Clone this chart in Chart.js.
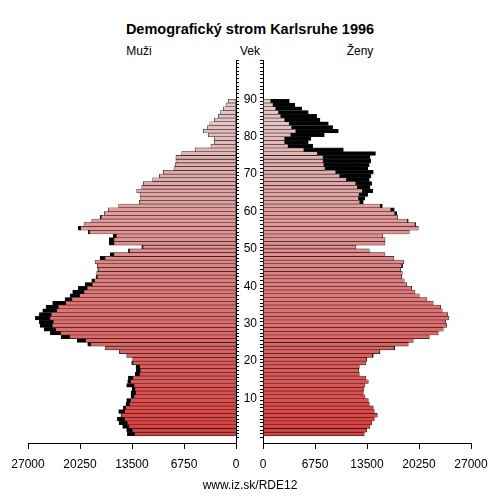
<!DOCTYPE html>
<html>
<head>
<meta charset="utf-8">
<script src="https://cdn.jsdelivr.net/npm/chart.js@4.4.1/dist/chart.umd.min.js"></script>
<style>
    body { margin: 0; background: #fff; font-family: "Liberation Sans", Arial, sans-serif; }
    #wrap { position: relative; width: 500px; height: 500px; overflow: hidden; }
    .txt { position: absolute; white-space: nowrap; line-height: 1; color: #000; transform: translateX(-50%); }
    #title { font-size: 14.5px; font-weight: bold; top: 22px; left: 250px; }
    .head { font-size: 12px; top: 45px; }
    #foot { font-size: 12px; top: 479px; left: 250px; }
    #menBox { position: absolute; left: 0; top: 0; }
    #womenBox { position: absolute; left: 236px; top: 0; }
</style>
</head>
<body>
<div id="wrap">
    <div id="title" class="txt">Demografický strom Karlsruhe 1996</div>
    <div class="txt head" style="left:139px">Muži</div>
    <div class="txt head" style="left:250px">Vek</div>
    <div class="txt head" style="left:360px">Ženy</div>
    <canvas id="menBox" width="250" height="500"></canvas>
    <canvas id="womenBox" width="264" height="500"></canvas>
    <div id="foot" class="txt">www.iz.sk/RDE12</div>
</div>

<script>
// ===== DATA =====

// ages 0 .. 89
const ages = Array.from({ length: 90 }, (_, i) => i);

const males = [
    14100, 14190, 14710, 15190, 15400, 14930, 15230, 14620, 14280, 14190,
    13630, 13630, 13500, 14190, 14060, 13970, 13110, 12940, 12980, 13540,
    13410, 14190, 15140, 17000, 19250, 20600, 22720, 24100, 24920, 25440,
    25530, 26050, 25530, 25090, 24660, 23800, 22200, 21550, 21200, 20470,
    19600, 18730, 18170, 18080, 17950, 18000, 18300, 17650, 16350, 13970,
    12240, 16440, 16440, 15920, 19170, 20470, 19730, 18730, 17650, 17090,
    16570, 15230, 12550, 12380, 12460, 12890, 12240, 12030, 10820, 9950,
    9430, 8050, 7900, 7800, 7800, 7050, 5300, 3250, 2800, 2800,
    3600, 4250, 3700, 3400, 2800, 2300, 2000, 1650, 1300, 1000
];

const females = [
    13150, 13460, 13890, 14100, 14450, 14840, 14450, 14320, 13800, 13670,
    13240, 13020, 13110, 13240, 13670, 13370, 12500, 12420, 12500, 13370,
    13460, 14320, 15190, 17130, 18860, 19510, 21590, 22750, 23400, 23840,
    23710, 24140, 23970, 23270, 23060, 22100, 21290, 20290, 19730, 19300,
    18650, 18340, 18000, 18080, 17870, 18130, 18300, 17000, 15840, 13800,
    12070, 15840, 15840, 15530, 18990, 20160, 19820, 18860, 17480, 17350,
    17050, 15490, 13020, 13240, 13590, 14240, 13890, 14110, 13800, 14020,
    14320, 13600, 13800, 14000, 13900, 14600, 10430, 6450, 5880, 6230,
    7960, 9780, 9040, 8480, 7400, 6960, 5880, 5020, 4150, 3420
];

const valueTicks = [0, 6750, 13500, 20250, 27000];
const ageLabels = [10, 20, 30, 40, 50, 60, 70, 80, 90];

// ===== HELPERS =====

// shared part of both sexes, the surplus is drawn black
const common = ages.map(i => Math.min(males[i], females[i]));

function barColor(age) {
    const t = age / 89;
    const r = Math.round(221 + 9 * t);
    const g = Math.round(62 + 140 * t);
    return `rgb(${r},${g},${g})`;
}

function makeSide(canvasId, values, isMen) {

    const shared = ages.map(i => ({ x: common[i], y: ages[i] + 0.5 }));
    const extra = ages.map(i => ({
        x: values[i] - common[i] > 0 ? values[i] - common[i] : null,
        y: ages[i] + 0.5
    }));

    const barStyle = {
        borderColor: "#1a1a1a",
        borderWidth: 0.6,
        borderSkipped: false,
        barPercentage: 1,
        categoryPercentage: 1
    };

    return new Chart(document.getElementById(canvasId), {
        type: "bar",
        data: {
            datasets: [
                Object.assign({ data: shared, backgroundColor: ages.map(barColor) }, barStyle),
                Object.assign({ data: extra, backgroundColor: "#000" }, barStyle)
            ]
        },
        options: {
            indexAxis: "y",
            responsive: false,
            animation: false,
            layout: {
                padding: isMen
                    ? { left: 28, top: 60, right: 0, bottom: 0 }
                    : { left: 0, top: 60, right: 29, bottom: 0 }
            },
            plugins: {
                legend: { display: false },
                tooltip: { enabled: false }
            },
            scales: {
                x: {
                    type: "linear",
                    min: 0,
                    max: 27000,
                    reverse: isMen,
                    stacked: true,
                    afterBuildTicks: s => { s.ticks = valueTicks.map(v => ({ value: v })); },
                    afterFit: s => { s.height = 57; },
                    grid: { drawOnChartArea: false, tickLength: 6, color: "#000" },
                    border: { color: "#000" },
                    ticks: {
                        color: "#000",
                        padding: 8,
                        maxRotation: 0,
                        autoSkip: false,
                        font: { family: "Liberation Sans", size: 12 },
                        callback: v => String(v)
                    }
                },
                y: {
                    type: "linear",
                    min: -1.4,
                    max: 100,
                    stacked: true,
                    position: isMen ? "right" : "left",
                    afterBuildTicks: s => { s.ticks = s.ticks.filter(t => t.value >= 0); },
                    afterFit: s => { s.width = isMen ? 14 : 27; },
                    grid: { drawOnChartArea: false, tickLength: 3, color: "#000" },
                    border: { color: "#000" },
                    ticks: {
                        display: !isMen,
                        stepSize: 1,
                        autoSkip: false,
                        crossAlign: "center",
                        padding: 3,
                        color: "#000",
                        font: { family: "Liberation Sans", size: 12 },
                        callback: v => ageLabels.includes(v) ? String(v) : ""
                    }
                }
            }
        }
    });
}

makeSide("menBox", males, true);
makeSide("womenBox", females, false);
</script>
</body>
</html>
